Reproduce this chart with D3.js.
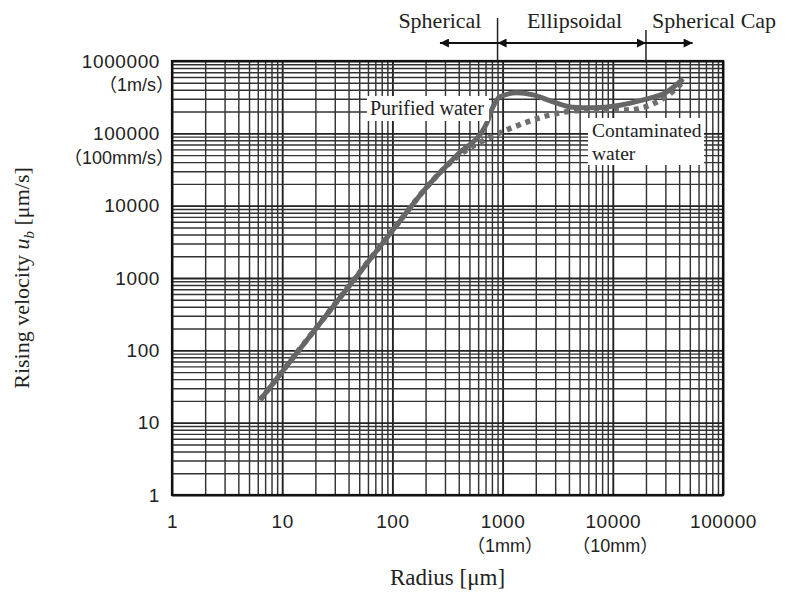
<!DOCTYPE html>
<html><head><meta charset="utf-8">
<script src="https://cdn.jsdelivr.net/npm/d3@7"></script>
<style>body{margin:0;background:#fff}</style>
</head><body><svg id="c" width="786" height="601"></svg>
<script>
// ---- data ----
const xTicks = [1, 10, 100, 1000, 10000, 100000];
const xTickLabels = ["1", "10", "100", "1000", "10000", "100000"];
const xSubLabels = ["", "", "", "（1mm）", "（10mm）", ""];
const yTicks = [1, 10, 100, 1000, 10000, 100000, 1000000];
const yTickLabels = ["1", "10", "100", "1000", "10000", "100000", "1000000"];
const ySubLabels = ["", "", "", "", "", "（100mm/s）", "（1m/s）"];

const purifiedR = [6.3, 101, 206, 385, 721, 818, 947, 1350, 1890, 2870, 4350, 6600, 11600, 18800, 31000, 43400];
const purifiedV = [20.6, 4600, 18200, 50000, 140000, 232000, 320000, 363000, 340000, 273000, 230000, 226000, 245000, 290000, 375000, 567000];

const contamR = [6.3, 101, 206, 333, 506, 769, 1240, 2180, 3310, 6600, 13400, 23200, 38200, 43400];
const contamV = [20.6, 4600, 18200, 39000, 63000, 88000, 121000, 164000, 192000, 211000, 211000, 256000, 425000, 518000];

const regimeNames = ["Spherical", "Ellipsoidal", "Spherical Cap"];
const regimeLabelR = [270, 4500, 83000];
const regimeBounds = [900, 20000];
const arrowEnds = [270, 53000];

// ---- layout ----
const L = 172, R = 723, T = 61, B = 495;
const svg = d3.select("#c");
const x = d3.scaleLog().domain([1, 1e5]).range([L, R]);
const y = d3.scaleLog().domain([1, 1e6]).range([B, T]);

const sans = "'Liberation Sans', Arial, 'Noto Sans CJK JP', sans-serif";
const serif = "'Liberation Serif', 'Times New Roman', serif";

// grid values 1..9 per decade
const gx = [], gy = [];
for (let d = 0; d < 5; d++) for (let k = 1; k < 10; k++) gx.push(k * Math.pow(10, d));
gx.push(1e5);
for (let d = 0; d < 6; d++) for (let k = 1; k < 10; k++) gy.push(k * Math.pow(10, d));
gy.push(1e6);

const gridX = svg.append("g").attr("transform", `translate(0,${B})`)
  .call(d3.axisBottom(x).tickValues(gx).tickSize(-(B - T)).tickFormat(""));
const gridY = svg.append("g").attr("transform", `translate(${L},0)`)
  .call(d3.axisLeft(y).tickValues(gy).tickSize(-(R - L)).tickFormat(""));
[gridX, gridY].forEach(g => {
  g.select(".domain").remove();
  g.selectAll(".tick line").attr("stroke", "#333").attr("stroke-width", 1.45);
});
gridX.selectAll(".tick line").filter(d => xTicks.includes(d)).attr("stroke-width", 1.9).attr("stroke", "#222");
gridY.selectAll(".tick line").filter(d => yTicks.includes(d)).attr("stroke-width", 1.9).attr("stroke", "#222");

// border
svg.append("rect").attr("x", L).attr("y", T).attr("width", R - L).attr("height", B - T)
  .attr("fill", "none").attr("stroke", "#111").attr("stroke-width", 2.2);

// tick labels via axes
const axX = svg.append("g").attr("transform", `translate(0,${B})`)
  .call(d3.axisBottom(x).tickValues(xTicks).tickSize(0).tickPadding(20)
    .tickFormat((d, i) => xTickLabels[i]));
axX.select(".domain").remove();
axX.selectAll("text").attr("font-family", sans).attr("font-size", 19).attr("fill", "#222")
  .attr("letter-spacing", 0.6);
axX.selectAll(".tick").each(function (d, i) {
  if (xSubLabels[i]) d3.select(this).append("text").attr("y", 57).attr("x", 2)
    .attr("text-anchor", "middle").attr("font-family", sans).attr("font-size", 18)
    .attr("fill", "#222").text(xSubLabels[i]);
});

const axY = svg.append("g").attr("transform", `translate(${L},0)`)
  .call(d3.axisLeft(y).tickValues(yTicks).tickSize(0).tickPadding(12)
    .tickFormat((d, i) => yTickLabels[i]));
axY.select(".domain").remove();
axY.selectAll("text").attr("font-family", sans).attr("font-size", 19).attr("fill", "#222")
  .attr("letter-spacing", 0.6);
axY.selectAll(".tick").each(function (d, i) {
  if (ySubLabels[i]) d3.select(this).append("text").attr("x", 2).attr("y", 24)
    .attr("dy", "0.32em").attr("text-anchor", "end").attr("font-family", sans)
    .attr("font-size", 18).attr("fill", "#222").text(ySubLabels[i]);
});

// curves
const line = d3.line().x(d => x(d[0])).y(d => y(d[1])).curve(d3.curveMonotoneX);
const cData = contamR.map((r, i) => [r, contamV[i]]);
const pData = purifiedR.map((r, i) => [r, purifiedV[i]]);
svg.append("path").datum(cData).attr("d", line).attr("fill", "none")
  .attr("stroke", "#6e6e6e").attr("stroke-width", 5.5).attr("stroke-dasharray", "5,5");
svg.append("path").datum(pData).attr("d", line).attr("fill", "none")
  .attr("stroke", "#666").attr("stroke-width", 5);

// in-plot labels
svg.append("rect").attr("x", 367).attr("y", 96).attr("width", 122).attr("height", 25).attr("fill", "#fff");
svg.append("text").attr("x", 370).attr("y", 115).attr("font-family", serif).attr("font-size", 20)
  .attr("fill", "#222").text("Purified water");
svg.append("rect").attr("x", 588).attr("y", 118).attr("width", 116).attr("height", 47).attr("fill", "#fff");
svg.append("text").attr("x", 592).attr("y", 137).attr("font-family", serif).attr("font-size", 19.5)
  .attr("fill", "#222").text("Contaminated");
svg.append("text").attr("x", 592).attr("y", 160).attr("font-family", serif).attr("font-size", 19.5)
  .attr("fill", "#222").text("water");

// regime annotations
const defs = svg.append("defs");
defs.append("marker").attr("id", "ah").attr("viewBox", "0 0 10 10").attr("refX", 10).attr("refY", 5)
  .attr("markerWidth", 12).attr("markerHeight", 9).attr("markerUnits", "userSpaceOnUse")
  .attr("orient", "auto-start-reverse")
  .append("path").attr("d", "M0,0L10,5L0,10z").attr("fill", "#111");
const ay = 43;
svg.append("line").attr("x1", x(regimeBounds[0])).attr("x2", x(regimeBounds[0])).attr("y1", 18).attr("y2", T)
  .attr("stroke", "#222").attr("stroke-width", 1.5);
svg.append("line").attr("x1", x(regimeBounds[1])).attr("x2", x(regimeBounds[1])).attr("y1", 30).attr("y2", T)
  .attr("stroke", "#222").attr("stroke-width", 1.5);
const arrows = [[regimeBounds[0], arrowEnds[0], false], [regimeBounds[0], regimeBounds[1], true], [regimeBounds[1], arrowEnds[1], false]];
arrows.forEach(([a, b, both]) => {
  const l = svg.append("line").attr("x1", x(a)).attr("x2", x(b)).attr("y1", ay).attr("y2", ay)
    .attr("stroke", "#111").attr("stroke-width", 2).attr("marker-end", "url(#ah)");
  if (both) l.attr("marker-start", "url(#ah)");
});
regimeNames.forEach((n, i) => {
  svg.append("text").attr("x", x(regimeLabelR[i])).attr("y", 28).attr("text-anchor", "middle")
    .attr("font-family", serif).attr("font-size", 22).attr("fill", "#222").text(n);
});

// axis titles
svg.append("text").attr("x", (L + R) / 2).attr("y", 585).attr("text-anchor", "middle")
  .attr("font-family", serif).attr("font-size", 23).attr("fill", "#222").text("Radius [μm]");
const yt = svg.append("text").attr("transform", "translate(29,278) rotate(-90)").attr("text-anchor", "middle")
  .attr("font-family", serif).attr("font-size", 22).attr("fill", "#222");
yt.append("tspan").text("Rising velocity ");
yt.append("tspan").attr("font-style", "italic").text("u");
yt.append("tspan").attr("font-style", "italic").attr("font-size", 15).attr("dy", 5).text("b");
yt.append("tspan").attr("dy", -5).text(" [μm/s]");
</script></body></html>
